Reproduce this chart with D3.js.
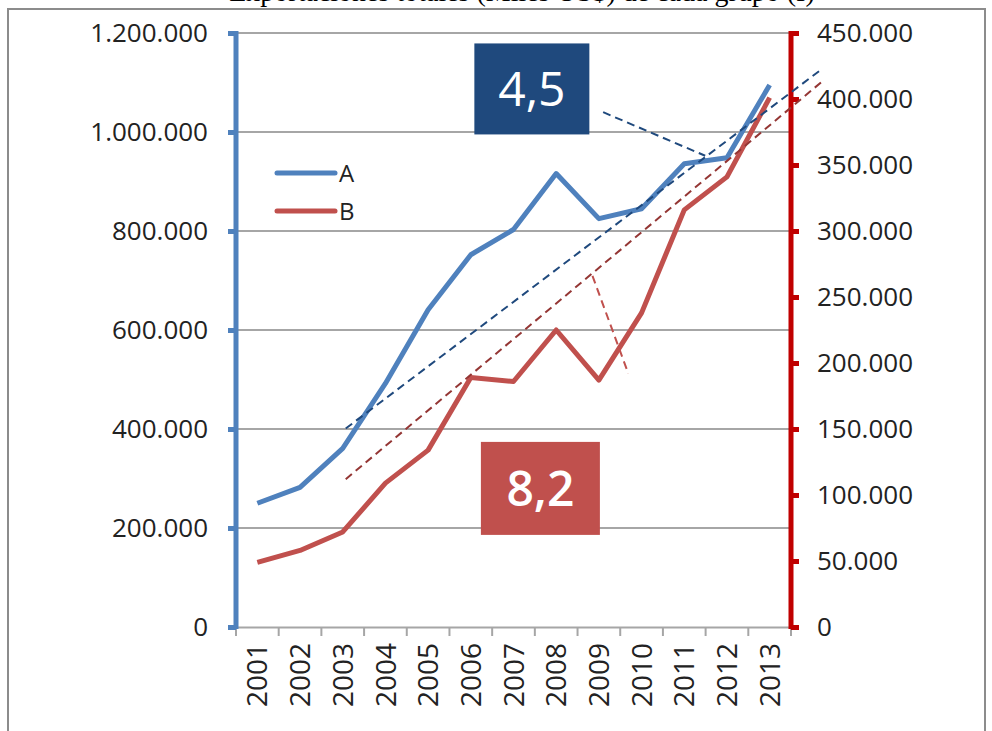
<!DOCTYPE html>
<html>
<head>
<meta charset="utf-8">
<script src="https://cdn.jsdelivr.net/npm/d3@7"></script>
<style>
  body { margin: 0; background: #fff; }
  svg { display: block; }
  text { font-family: "Open Sans", sans-serif; fill: #222; }
</style>
</head>
<body>
<svg width="992" height="731"></svg>
<script>
// data
var years = ["2001","2002","2003","2004","2005","2006","2007","2008","2009","2010","2011","2012","2013"];
var seriesA = [250000, 282000, 361000, 492000, 641000, 752000, 803000, 916000, 825000, 845000, 936000, 948000, 1095000];
var seriesB = [49000, 58000, 72000, 109000, 134000, 189000, 186000, 225000, 187000, 238000, 316000, 341000, 401000];
var leftTicks = [0, 200000, 400000, 600000, 800000, 1000000, 1200000];
var rightTicks = [0, 50000, 100000, 150000, 200000, 250000, 300000, 350000, 400000, 450000];
// trend lines (index along the year axis, value)
var trendA = [[2.07, 401000], [13.19, 1125000]];
var trendB = [[2.07, 112000], [13.22, 413000]];
var pointerA = [[8.10, 1040000], [10.49, 952000]];
var pointerB = [[7.85, 266000], [8.69, 192000]];
var labelA = {text: "4,5", i: 6.43, v: 1087000};
var labelB = {text: "8,2", i: 6.63, v: 105000};
var legendNames = ["A", "B"];

var blue = "#4f81bd", red = "#c0504d";

var svg = d3.select("svg"),
    width = +svg.attr("width"),
    height = +svg.attr("height");

var loc = d3.formatLocale({decimal: ",", thousands: ".", grouping: [3], currency: ["", ""]});
var fmt = loc.format(",.0f");

var x = d3.scaleBand().domain(years).range([236, 791]);
var yL = d3.scaleLinear().domain([0, 1200000]).range([627, 33]);
var yR = d3.scaleLinear().domain([0, 450000]).range([627, 33]);

function xi(i) { return x(years[0]) + x.bandwidth() / 2 + i * x.step(); }

// frame
svg.append("rect")
    .attr("x", 8).attr("y", 9)
    .attr("width", 977).attr("height", 740)
    .attr("fill", "none")
    .attr("stroke", "#8c8c8c")
    .attr("stroke-width", 2);

// title, cut off at the top edge as in the source
svg.append("text")
    .attr("x", 522).attr("y", 1)
    .attr("text-anchor", "middle")
    .style("font-family", "'Liberation Serif', serif")
    .style("font-size", "28px")
    .style("fill", "#000")
    .text("Exportaciones totales (Miles US$) de cada grupo (I)");

// gridlines
svg.append("g").selectAll("line")
  .data(leftTicks.slice(1))
  .enter().append("line")
    .attr("x1", 236).attr("x2", 791)
    .attr("y1", function(d) { return yL(d); })
    .attr("y2", function(d) { return yL(d); })
    .attr("stroke", "#a6a6a6")
    .attr("stroke-width", 2);

// x axis
var xAxis = svg.append("g")
    .attr("transform", "translate(0," + yL(0) + ")")
    .call(d3.axisBottom(x).tickSize(0).tickPadding(0));
xAxis.select(".domain").attr("stroke", "#a6a6a6").attr("stroke-width", 2);
xAxis.selectAll(".tick text").remove();
svg.append("g").selectAll("line")
  .data(d3.range(years.length + 1))
  .enter().append("line")
    .attr("x1", function(d) { return x(years[0]) + d * x.step(); })
    .attr("x2", function(d) { return x(years[0]) + d * x.step(); })
    .attr("y1", yL(0)).attr("y2", yL(0) + 9)
    .attr("stroke", "#a6a6a6")
    .attr("stroke-width", 2);
svg.append("g").selectAll("text")
  .data(years)
  .enter().append("text")
    .attr("transform", function(d) { return "translate(" + (x(d) + x.bandwidth() / 2) + "," + 643 + ") rotate(-90)"; })
    .attr("text-anchor", "end")
    .attr("dy", "0.36em")
    .style("font-size", "28px")
    .text(function(d) { return d; });

// left axis
var left = svg.append("g")
    .attr("transform", "translate(236,0)")
    .call(d3.axisLeft(yL).tickValues(leftTicks).tickFormat(fmt).tickSize(8).tickPadding(20));
left.select(".domain").remove();
left.selectAll(".tick line").attr("stroke", blue).attr("stroke-width", 5);
left.selectAll(".tick text").style("font-size", "26px").style("fill", "#222");
left.append("line")
    .attr("y1", yL(1200000) - 2).attr("y2", yL(0) + 2)
    .attr("stroke", blue).attr("stroke-width", 5);

// right axis
var right = svg.append("g")
    .attr("transform", "translate(791,0)")
    .call(d3.axisRight(yR).tickValues(rightTicks).tickFormat(fmt).tickSize(8).tickPadding(18));
right.select(".domain").remove();
right.selectAll(".tick line").attr("stroke", "#c00000").attr("stroke-width", 5);
right.selectAll(".tick text").style("font-size", "26px").style("fill", "#222");
right.append("line")
    .attr("y1", yR(450000) - 2).attr("y2", yR(0) + 2)
    .attr("stroke", "#c00000").attr("stroke-width", 5);

// series lines
var lineA = d3.line()
    .x(function(d, i) { return x(years[i]) + x.bandwidth() / 2; })
    .y(function(d) { return yL(d); });
var lineB = d3.line()
    .x(function(d, i) { return x(years[i]) + x.bandwidth() / 2; })
    .y(function(d) { return yR(d); });

svg.append("path").datum(seriesA)
    .attr("d", lineA)
    .attr("fill", "none")
    .attr("stroke", blue)
    .attr("stroke-width", 5)
    .attr("stroke-linejoin", "round");
svg.append("path").datum(seriesB)
    .attr("d", lineB)
    .attr("fill", "none")
    .attr("stroke", red)
    .attr("stroke-width", 5)
    .attr("stroke-linejoin", "round");

// trend + pointer dashes
function dashed(pts, yScale, color) {
  svg.append("path").datum(pts)
      .attr("d", d3.line()
        .x(function(d) { return xi(d[0]); })
        .y(function(d) { return yScale(d[1]); }))
      .attr("fill", "none")
      .attr("stroke", color)
      .attr("stroke-width", 2)
      .attr("stroke-dasharray", "8,5");
}
dashed(trendA, yL, "#1f497d");
dashed(trendB, yR, "#943634");
dashed(pointerA, yL, "#1f497d");
dashed(pointerB, yR, "#c0504d");

// labelled boxes
function box(lbl, yScale, fill, w, h, weight) {
  var cx = xi(lbl.i), cy = yScale(lbl.v);
  svg.append("rect")
      .attr("x", cx - w / 2).attr("y", cy - h / 2)
      .attr("width", w).attr("height", h)
      .attr("fill", fill);
  svg.append("text")
      .attr("x", cx).attr("y", cy)
      .attr("text-anchor", "middle")
      .attr("dy", "0.36em")
      .style("font-size", "48px")
      .style("font-weight", weight)
      .style("fill", "#fff")
      .text(lbl.text);
}
box(labelA, yL, "#1f497d", 115, 91, 400);
box(labelB, yR, "#c0504d", 119, 93, 600);

// legend
var legend = svg.append("g").selectAll("g")
  .data(legendNames)
  .enter().append("g")
    .attr("transform", function(d, i) { return "translate(277," + (173 + i * 38) + ")"; });
legend.append("line")
    .attr("x1", 0).attr("x2", 58)
    .attr("stroke", function(d, i) { return i ? red : blue; })
    .attr("stroke-width", 5)
    .attr("stroke-linecap", "round");
legend.append("text")
    .attr("x", 62)
    .attr("dy", "0.36em")
    .style("font-size", "24px")
    .text(function(d) { return d; });
</script>
</body>
</html>
